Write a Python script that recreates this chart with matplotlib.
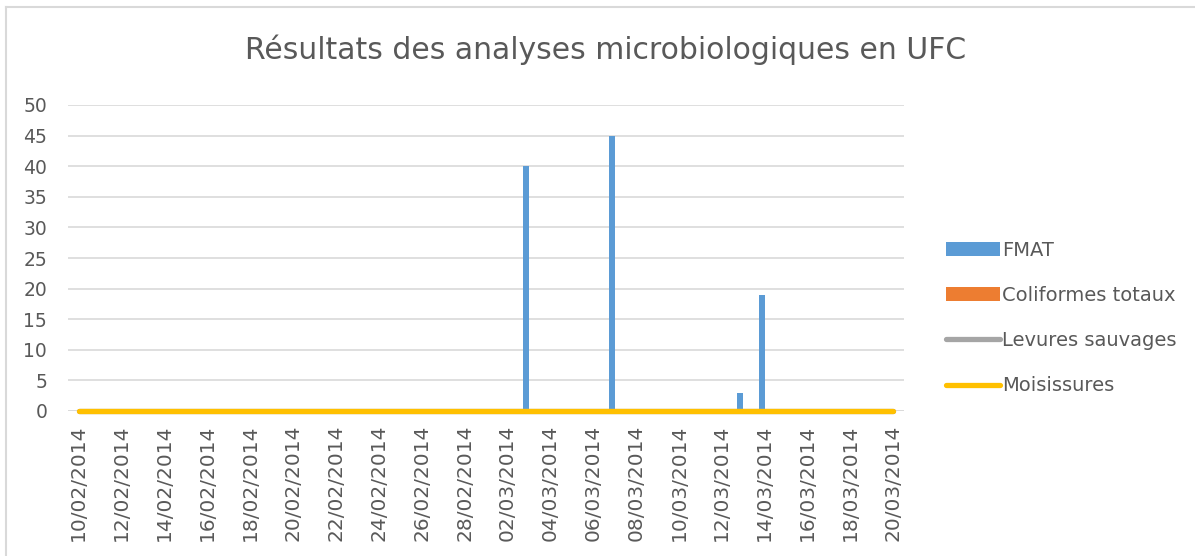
import matplotlib
matplotlib.use("Agg")
import matplotlib.pyplot as plt
import matplotlib.dates as mdates
from matplotlib.patches import Patch
from matplotlib.lines import Line2D
import pandas as pd

title = "Résultats des analyses microbiologiques en UFC"
start_date = "10/02/2014"
end_date = "20/03/2014"

bar_dates = ["03/03/2014", "07/03/2014", "13/03/2014", "14/03/2014"]
fmat = [40, 45, 3, 19]
coliformes = [0, 0, 0, 0]

line_dates = ["10/02/2014", "03/03/2014", "07/03/2014", "13/03/2014", "14/03/2014", "20/03/2014"]
levures = [0, 0, 0, 0, 0, 0]
moisissures = [0, 0, 0, 0, 0, 0]

y_ticks = [0, 5, 10, 15, 20, 25, 30, 35, 40, 45, 50]

txt = "#595959"
grid = "#d9d9d9"
blue = "#5b9bd5"
orange = "#ed7d31"
grey = "#a5a5a5"
yellow = "#ffc000"

plt.rcParams["font.family"] = ["DejaVu Sans"]

def to_dates(lst):
    return pd.to_datetime(lst, format="%d/%m/%Y")

bd = to_dates(bar_dates)
ld = to_dates(line_dates)
d0, d1 = to_dates([start_date, end_date])

fig = plt.figure(figsize=(11.95, 5.56), dpi=100)
ax = fig.add_axes([68 / 1195, 145 / 556, (904 - 68) / 1195, (411 - 105) / 556])

w = 0.28
ax.bar(bd - pd.Timedelta(days=0.14), fmat, width=w, color=blue, zorder=2)
ax.bar(bd + pd.Timedelta(days=0.14), coliformes, width=w, color=orange, zorder=2)
ax.plot(ld, levures, color=grey, lw=3.8, solid_capstyle="round", clip_on=False, zorder=3)
ax.plot(ld, moisissures, color=yellow, lw=3.8, solid_capstyle="round", clip_on=False, zorder=4)

ax.set_ylim(0, 50)
ax.set_yticks(y_ticks)
ax.set_xlim(d0 - pd.Timedelta(days=0.5), d1 + pd.Timedelta(days=0.5))
ticks = pd.date_range(d0, d1, freq="2D")
ax.set_xticks(ticks)
ax.xaxis.set_major_formatter(mdates.DateFormatter("%d/%m/%Y"))
ax.tick_params(axis="x", rotation=90, length=0, pad=10, labelsize=14.5, labelcolor=txt)
ax.tick_params(axis="y", length=0, pad=15, labelsize=13.5, labelcolor=txt)

ax.grid(axis="y", color=grid, lw=1.2, zorder=0)
for s in ax.spines.values():
    s.set_visible(False)
ax.axhline(0, color=grid, lw=1.2, zorder=1)

fig.text(606 / 1195, 1 - 50 / 556, title, ha="center", va="center", fontsize=21.5, color=txt)

handles = [
    Patch(facecolor=blue, edgecolor="none"),
    Patch(facecolor=orange, edgecolor="none"),
    Line2D([], [], color=grey, lw=3.8, solid_capstyle="round"),
    Line2D([], [], color=yellow, lw=3.8, solid_capstyle="round"),
]
labels = ["FMAT", "Coliformes totaux", "Levures sauvages", "Moisissures"]
fig.legend(handles, labels, loc="center left", bbox_to_anchor=(938 / 1195, 1 - 318 / 556),
           frameon=False, fontsize=14, labelcolor=txt, handlelength=2.8, handleheight=0.7,
           handletextpad=0.1, labelspacing=1.35, borderaxespad=0)

# outer frame (only left and top edges fall inside the image)
fig.add_artist(Line2D([6 / 1195, 6 / 1195], [-0.01, 1 - 7 / 556], transform=fig.transFigure, color=grid, lw=1.5))
fig.add_artist(Line2D([6 / 1195, 1.01], [1 - 7 / 556, 1 - 7 / 556], transform=fig.transFigure, color=grid, lw=1.5))

fig.savefig("out.png", dpi=100, facecolor="white")
